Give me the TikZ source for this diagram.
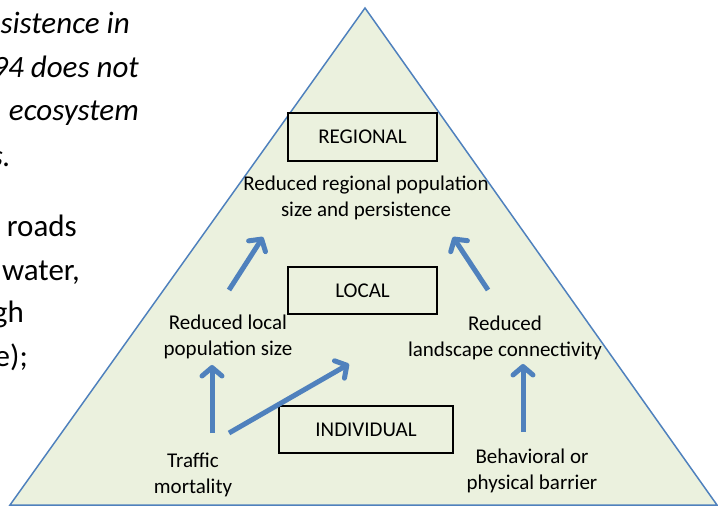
\documentclass[tikz,border=0pt]{standalone}
\usepackage{fontspec}
\setmainfont{Carlito}
\usetikzlibrary{arrows.meta}
\definecolor{pyrfill}{HTML}{EBF1DE}
\definecolor{pyrblue}{HTML}{4F81BD}
\tikzset{
  lbl/.style={align=center, inner sep=0pt, font=\fontsize{21}{26}\selectfont},
  levelbox/.style={draw=black, line width=1.4pt, fill=pyrfill, inner sep=0pt,
    font=\fontsize{21}{26}\selectfont},
  flow/.style={draw=pyrblue, line width=5pt,
    -{Straight Barb[length=8.5pt,width=20pt,line cap=round,line join=round]}},
  sidetext/.style={anchor=base east, inner sep=0pt, font=\fontsize{31}{40}\selectfont},
}
\begin{document}
\begin{tikzpicture}[x=1pt,y=-1pt]
\useasboundingbox (0,0) rectangle (718,506);
% side text (clipped paragraph)
\node[sidetext] (s1) at (130,33) {\itshape sistence in};
\node[sidetext] (s2) at (139,77) {\itshape 94 does not};
\node[sidetext] (s3) at (139,120) {\itshape ecosystem};
\node[sidetext] (s4) at (11,166) {\itshape s.};
\node[sidetext] (s5) at (77,236) {roads};
\node[sidetext] (s6) at (80,280) {water,};
\node[sidetext] (s7) at (24,322) {gh};
\node[sidetext] (s8) at (28,366) {e);};
% pyramid
\coordinate (apex) at (365,8);
\coordinate (bl) at (10,505);
\coordinate (br) at (717,505);
\draw[draw=pyrblue, line width=1.5pt, fill=pyrfill, line join=miter] (apex) -- (br) -- (bl) -- cycle;
% level boxes
\node[levelbox, minimum width=149pt, minimum height=48pt] (regional) at (362.5,137) {REGIONAL};
\node[levelbox, minimum width=149pt, minimum height=47pt] (local) at (362.5,290.5) {LOCAL};
\node[levelbox, minimum width=174pt, minimum height=47pt] (individual) at (366,429.5) {INDIVIDUAL};
% labels
\node[lbl] (regpop) at (366,198) {Reduced regional population\\size and persistence};
\node[lbl] (locpop) at (228,337) {Reduced local\\population size};
\node[lbl] (conn) at (505,338) {Reduced\\landscape connectivity};
\node[lbl] (traffic) at (193,475) {Traffic\\mortality};
\node[lbl] (barrier) at (532,471) {Behavioral or\\physical barrier};
% arrow end points
\coordinate (a1s) at (229,290); \coordinate (a1e) at (263,237);
\coordinate (a2s) at (488,290); \coordinate (a2e) at (453,237);
\coordinate (a3s) at (212,433); \coordinate (a3e) at (212,365);
\coordinate (a4s) at (229,433); \coordinate (a4e) at (349,364);
\coordinate (a5s) at (523,432); \coordinate (a5e) at (523,364);
\draw[flow] (a1s) -- (a1e);
\draw[flow] (a2s) -- (a2e);
\draw[flow] (a3s) -- (a3e);
\draw[flow] (a4s) -- (a4e);
\draw[flow] (a5s) -- (a5e);
\end{tikzpicture}
\end{document}
